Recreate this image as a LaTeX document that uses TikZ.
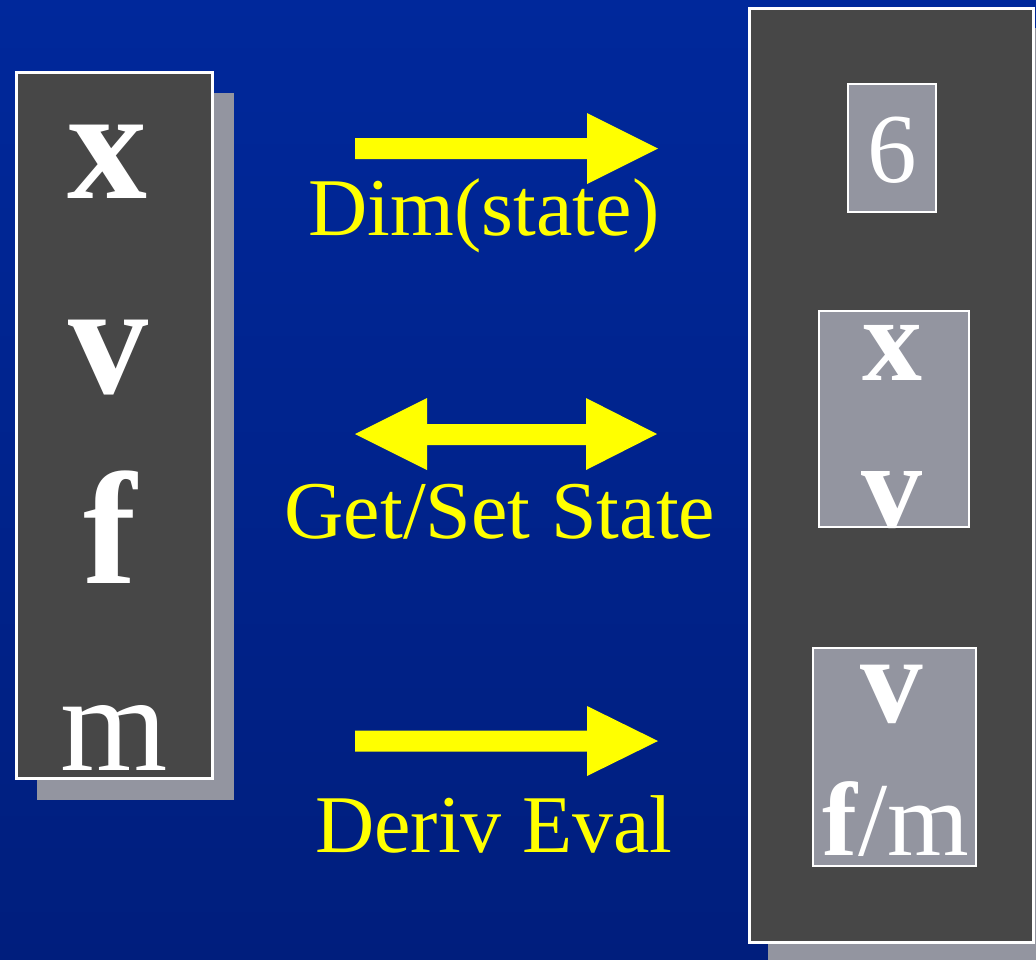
\documentclass[tikz,border=0pt]{standalone}
\usepackage{fontspec}
\setmainfont{Liberation Serif}
\definecolor{bgtop}{RGB}{0,40,155}
\definecolor{bgbot}{RGB}{0,30,125}
\definecolor{panel}{RGB}{71,71,71}
\definecolor{shade}{RGB}{147,149,160}
\definecolor{arrowyel}{RGB}{255,255,0}
\tikzset{
  panelbox/.style={draw=white,line width=3pt,fill=panel},
  innerbox/.style={draw=white,line width=2.5pt,fill=shade},
  shadowbox/.style={fill=shade},
  letter/.style={text=white,inner sep=0pt,anchor=base},
  lbl/.style={text=arrowyel,inner sep=0pt,anchor=base,font=\fontsize{82}{82}\selectfont},
  blockarrow/.style={fill=arrowyel}
}
\begin{document}
\begin{tikzpicture}[x=1pt,y=-1pt]
\useasboundingbox (0,0) rectangle (1036,959);
\clip (0,0) rectangle (1036,959);
\shade[top color=bgtop,bottom color=bgbot] (0,0) rectangle (1036,959);
% left column
\fill[shadowbox] (37,93) rectangle (234,800);
\draw[panelbox] (16.5,72.5) rectangle (212.5,778.5);
\node[letter,font=\fontsize{160}{160}\selectfont\bfseries] (lx) at (107,198) {x};
\node[letter,font=\fontsize{160}{160}\selectfont\bfseries] (lv) at (108,393) {v};
\node[letter,font=\fontsize{160}{160}\selectfont\bfseries] (lf) at (110,583) {f};
\node[letter,font=\fontsize{138}{138}\selectfont] (lm) at (114,770) {m};
% right column
\fill[shadowbox] (768,28) rectangle (1060,965);
\draw[panelbox] (749.5,8.5) rectangle (1033.5,942);
\draw[innerbox] (848,84) rectangle (936,212);
\node[letter,font=\fontsize{99}{99}\selectfont] (six) at (892,182) {6};
\draw[innerbox] (819,311) rectangle (969,527);
\node[letter,font=\fontsize{120}{120}\selectfont\bfseries] (rx) at (892,380) {x};
\node[letter,font=\fontsize{122}{122}\selectfont\bfseries] (rv) at (892,527) {v};
\draw[innerbox] (813,648) rectangle (976,866);
\node[letter,font=\fontsize{125}{125}\selectfont\bfseries] (rv2) at (892,722) {v};
\node[letter,font=\fontsize{105}{105}\selectfont] (rfm) at (896,855) {\textbf{f}/m};
% arrows
\fill[blockarrow] (355,138) -- (587,138) -- (587,113) -- (658,148.5) -- (587,184) -- (587,159) -- (355,159) -- cycle;
\node[lbl] (dim) at (484,235) {Dim(state)};
\fill[blockarrow] (355,434) -- (427,398) -- (427,424) -- (586,424) -- (586,398) -- (657,434) -- (586,470) -- (586,445) -- (427,445) -- (427,470) -- cycle;
\node[lbl] (gs) at (500,538) {Get/Set State};
\fill[blockarrow] (355,730.5) -- (587,730.5) -- (587,706) -- (658,741) -- (587,776) -- (587,751.5) -- (355,751.5) -- cycle;
\node[lbl] (de) at (494,852) {Deriv Eval};
\end{tikzpicture}
\end{document}
